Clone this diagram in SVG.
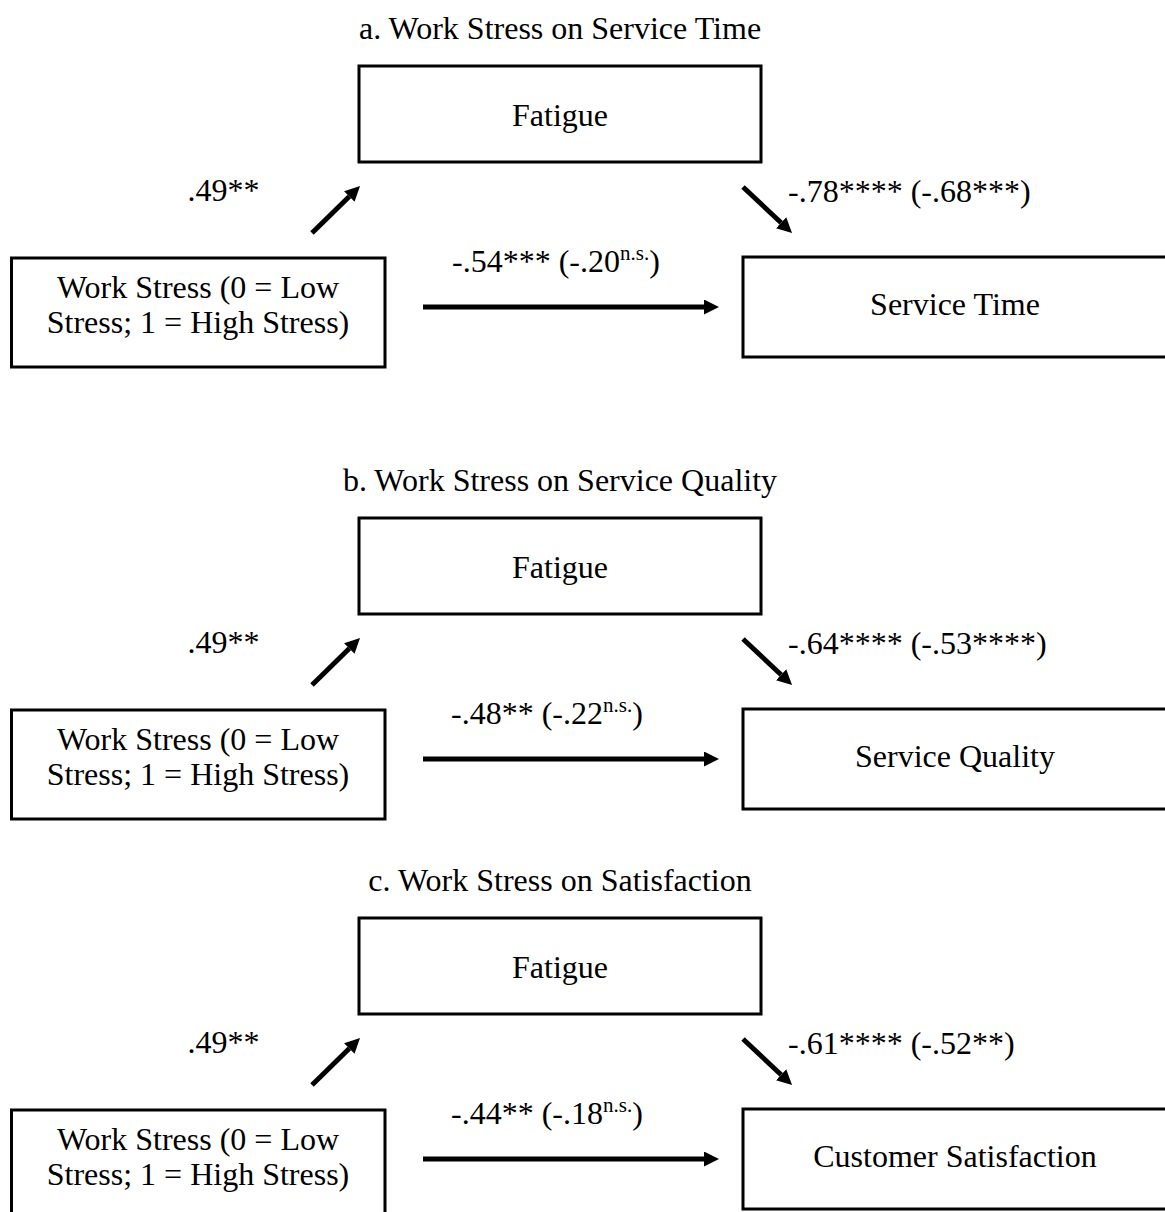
<svg xmlns="http://www.w3.org/2000/svg" width="1165" height="1212" viewBox="0 0 1165 1212">
<style>
text{font-family:"Liberation Serif","Times New Roman",serif;font-size:32px;fill:#000}
.m{text-anchor:middle}
.box{fill:#fff;stroke:#000;stroke-width:3}
.arr{stroke:#000;stroke-width:5;fill:none;marker-end:url(#ah)}
.sup{font-size:21px}
</style>
<defs>
<marker id="ah" markerUnits="userSpaceOnUse" markerWidth="15" markerHeight="15" viewBox="0 0 15 15" refX="0" refY="7.5" orient="auto">
<path d="M0,0 L15,7.5 L0,15 z" fill="#000"/>
</marker>
</defs>
<rect width="1165" height="1212" fill="#fff"/>

<!-- Panel a -->
<text id="title-a" class="m" x="560" y="39">a. Work Stress on Service Time</text>
<g id="a-fatigue"><rect class="box" x="359" y="66" width="402" height="96"/><text class="m" x="560" y="126">Fatigue</text></g>
<g id="a-stress"><rect class="box" x="11.5" y="258" width="373.5" height="109"/><text class="m" x="198" y="298">Work Stress (0 = Low</text><text class="m" x="198" y="333">Stress; 1 = High Stress)</text></g>
<g id="a-outcome"><rect class="box" x="743" y="257" width="440" height="100"/><text class="m" x="955" y="315">Service Time</text></g>
<g id="a-connectors">
<line class="arr" x1="312" y1="233" x2="349.3" y2="196.5"/>
<line class="arr" x1="743" y1="187" x2="781.1" y2="222.7"/>
<line class="arr" x1="423" y1="307" x2="704" y2="307"/>
<text x="187.5" y="201">.49**</text>
<text x="788" y="202">-.78**** (-.68***)</text>
<text x="452" y="272">-.54*** (-.20<tspan class="sup" dy="-12">n.s.</tspan><tspan dy="12">)</tspan></text>
</g>

<!-- Panel b -->
<text id="title-b" class="m" x="560" y="491">b. Work Stress on Service Quality</text>
<g id="b-fatigue"><rect class="box" x="359" y="518" width="402" height="96"/><text class="m" x="560" y="578">Fatigue</text></g>
<g id="b-stress"><rect class="box" x="11.5" y="710" width="373.5" height="109"/><text class="m" x="198" y="750">Work Stress (0 = Low</text><text class="m" x="198" y="785">Stress; 1 = High Stress)</text></g>
<g id="b-outcome"><rect class="box" x="743" y="709" width="440" height="100"/><text class="m" x="955" y="767">Service Quality</text></g>
<g id="b-connectors">
<line class="arr" x1="312" y1="685" x2="349.3" y2="648.5"/>
<line class="arr" x1="743" y1="639" x2="781.1" y2="674.7"/>
<line class="arr" x1="423" y1="759" x2="704" y2="759"/>
<text x="187.5" y="653">.49**</text>
<text x="788" y="654">-.64**** (-.53****)</text>
<text x="451" y="724">-.48** (-.22<tspan class="sup" dy="-12">n.s.</tspan><tspan dy="12">)</tspan></text>
</g>

<!-- Panel c -->
<text id="title-c" class="m" x="560" y="891">c. Work Stress on Satisfaction</text>
<g id="c-fatigue"><rect class="box" x="359" y="918" width="402" height="96"/><text class="m" x="560" y="978">Fatigue</text></g>
<g id="c-stress"><rect class="box" x="11.5" y="1110" width="373.5" height="109"/><text class="m" x="198" y="1150">Work Stress (0 = Low</text><text class="m" x="198" y="1185">Stress; 1 = High Stress)</text></g>
<g id="c-outcome"><rect class="box" x="743" y="1109" width="440" height="100"/><text class="m" x="955" y="1167">Customer Satisfaction</text></g>
<g id="c-connectors">
<line class="arr" x1="312" y1="1085" x2="349.3" y2="1048.5"/>
<line class="arr" x1="743" y1="1039" x2="781.1" y2="1074.7"/>
<line class="arr" x1="423" y1="1159" x2="704" y2="1159"/>
<text x="187.5" y="1053">.49**</text>
<text x="788" y="1054">-.61**** (-.52**)</text>
<text x="451" y="1124">-.44** (-.18<tspan class="sup" dy="-12">n.s.</tspan><tspan dy="12">)</tspan></text>
</g>
</svg>
